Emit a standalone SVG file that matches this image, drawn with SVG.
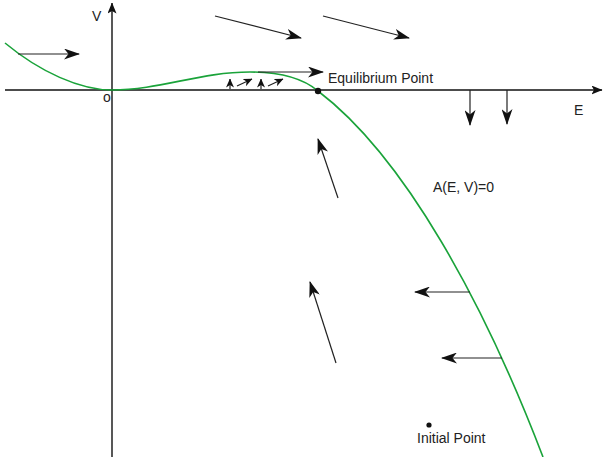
<svg xmlns="http://www.w3.org/2000/svg" width="603" height="457" viewBox="0 0 603 457">
<style>
.ax{stroke:#111;stroke-width:1.4;fill:none}
.ar{stroke:#222;stroke-width:1.2;fill:none;marker-end:url(#big)}
.sm{stroke:#222;stroke-width:1.2;fill:none;marker-end:url(#small)}
.crv{stroke:#1aa33a;stroke-width:1.6;fill:none}
text{font-family:"Liberation Sans",Arial,sans-serif;font-size:14px;fill:#222}
</style>
<defs>
<marker id="big" viewBox="0 0 16 11" markerWidth="16" markerHeight="11" refX="15" refY="5.5" orient="auto" markerUnits="userSpaceOnUse"><path d="M0,0 L16,5.5 L0,11 L4.5,5.5 z" fill="#111"/></marker>
<marker id="small" viewBox="0 0 9 8" markerWidth="9" markerHeight="8" refX="8.5" refY="4" orient="auto" markerUnits="userSpaceOnUse"><path d="M0,0 L9,4 L0,8 L2.5,4 z" fill="#111"/></marker>
<marker id="axh" viewBox="0 0 11 9" markerWidth="11" markerHeight="9" refX="10.5" refY="4.5" orient="auto" markerUnits="userSpaceOnUse"><path d="M0,0 L11,4.5 L0,9 L2.5,4.5 z" fill="#111"/></marker>
</defs>
<g id="axes">
<line class="ax" x1="5" y1="90" x2="602" y2="90" marker-end="url(#axh)"/>
<line class="ax" x1="112" y1="457" x2="112" y2="3" marker-end="url(#axh)"/>
<text x="92" y="21">V</text>
<text x="103" y="102">o</text>
<text x="574" y="115">E</text>
</g>
<g id="curve">
<path class="crv" d="M5,43 C40,72 80,90 112,90 C160,90 200,72 250,72 C285,72 305,80 318,91 C405,157 485,305 543,457"/>
<text x="433" y="192">A(E, V)=0</text>
</g>
<g id="equilibrium">
<circle cx="318" cy="91" r="3.2" fill="#111"/>
<text x="328" y="83">Equilibrium Point</text>
</g>
<g id="initial">
<circle cx="429" cy="425" r="2.6" fill="#111"/>
<text x="417" y="443">Initial Point</text>
</g>
<g id="connectors">
<line class="ar" x1="18" y1="54" x2="79" y2="54"/>
<line class="ar" x1="215" y1="16" x2="301" y2="38"/>
<line class="ar" x1="323" y1="16" x2="409" y2="38"/>
<line class="ar" x1="258" y1="72" x2="323" y2="72"/>
<line class="sm" x1="230" y1="89" x2="230" y2="79"/>
<line class="sm" x1="237" y1="86" x2="252" y2="79"/>
<line class="sm" x1="261" y1="89" x2="261" y2="79"/>
<line class="sm" x1="268" y1="86" x2="283" y2="79"/>
<line class="ar" x1="470" y1="90" x2="470" y2="125"/>
<line class="ar" x1="507" y1="90" x2="507" y2="124"/>
<line class="ar" x1="338" y1="198" x2="318" y2="139"/>
<line class="ar" x1="336" y1="363" x2="310" y2="282"/>
<line class="ar" x1="470" y1="292" x2="415" y2="292"/>
<line class="ar" x1="502" y1="358" x2="442" y2="358"/>
</g>
</svg>
